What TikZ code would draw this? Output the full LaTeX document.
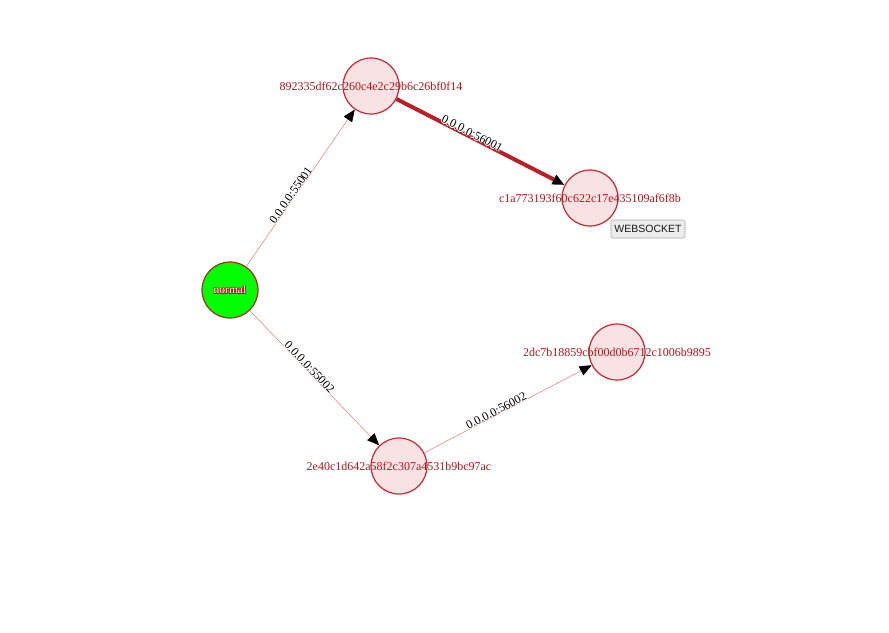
\documentclass[tikz,border=0pt]{standalone}
\usepackage{fontspec}
\setmainfont{Liberation Serif}
\newfontfamily\uisans{Liberation Sans}
\usepackage{contour}
\contourlength{0.5pt}
\contournumber{16}
\usetikzlibrary{arrows.meta}
\definecolor{nodeborder}{RGB}{196,40,48}
\definecolor{nodefill}{RGB}{249,226,227}
\definecolor{labelred}{RGB}{190,18,26}
\definecolor{thickred}{RGB}{186,30,38}
\definecolor{thinred}{RGB}{232,120,120}
\definecolor{greenfill}{RGB}{0,255,0}
\definecolor{greenborder}{RGB}{165,45,30}
\definecolor{btnfill}{RGB}{236,236,236}
\definecolor{btnborder}{RGB}{170,170,170}
\newcommand{\halo}[1]{{\contournumber{8}\contourlength{0.8pt}\contour{white}{#1}}}
\tikzset{
  hostnode/.style={circle, draw=nodeborder, fill=nodefill, line width=1.2pt, minimum size=56pt, inner sep=0pt},
  rootnode/.style={circle, draw=greenborder, fill=greenfill, line width=1.2pt, minimum size=56pt, inner sep=0pt},
  hostlabel/.style={text=labelred, font=\fontsize{12}{14}\selectfont, inner sep=0pt},
  thinedge/.style={draw=thinred, line width=0.5pt, -{Triangle[length=12pt,width=10pt,color=black]}},
  thickedge/.style={draw=thickred, line width=4pt, -{Triangle[length=12pt,width=10pt,color=black]}},
  elabel/.style={pos=0.44, sloped, anchor=base, inner sep=0pt, font=\fontsize{12}{14}\selectfont, text=black},
  tipbox/.style={draw=btnborder, fill=btnfill, rounded corners=1.5pt, line width=0.6pt, font=\uisans\fontsize{10.5}{12}\selectfont, inner xsep=2.5pt, inner ysep=2.5pt, minimum width=74pt, minimum height=18pt, text=black!90}
}
\begin{document}
\begin{tikzpicture}[x=1pt,y=-1pt]
\useasboundingbox (0,0) rectangle (889,632);
\fill[white] (0,0) rectangle (889,632);

\node[rootnode] (normal) at (230,290) {};
\node[hostnode] (h892) at (371,86) {};
\node[hostnode] (hc1a) at (590,198) {};
\node[hostnode] (h2dc) at (617,352) {};
\node[hostnode] (h2e4) at (399,466) {};

\draw[thinedge] (normal) -- node[elabel] {\halo{0.0.0.0:55001}} (h892);
\draw[thickedge] (h892) -- node[elabel] {\halo{0.0.0.0:56001}} (hc1a);
\draw[thinedge] (normal) -- node[elabel] {\halo{0.0.0.0:55002}} (h2e4);
\draw[thinedge] (h2e4) -- node[elabel] {\halo{0.0.0.0:56002}} (h2dc);

\node[hostlabel] (l892) at (h892) {892335df62c260c4e2c29b6c26bf0f14};
\node[hostlabel] (lc1a) at (hc1a) {c1a773193f60c622c17e435109af6f8b};
\node[hostlabel] (l2dc) at (h2dc) {2dc7b18859cbf00d0b6712c1006b9895};
\node[hostlabel] (l2e4) at (h2e4) {2e40c1d642a58f2c307a4531b9bc97ac};
\node[font=\fontsize{11.5}{13}\selectfont, inner sep=0pt] (lnormal) at (normal) {\contour{labelred}{\textcolor{white}{normal}}};

\node[tipbox] (ws) at (648,229) {WEBSOCKET};
\end{tikzpicture}
\end{document}
